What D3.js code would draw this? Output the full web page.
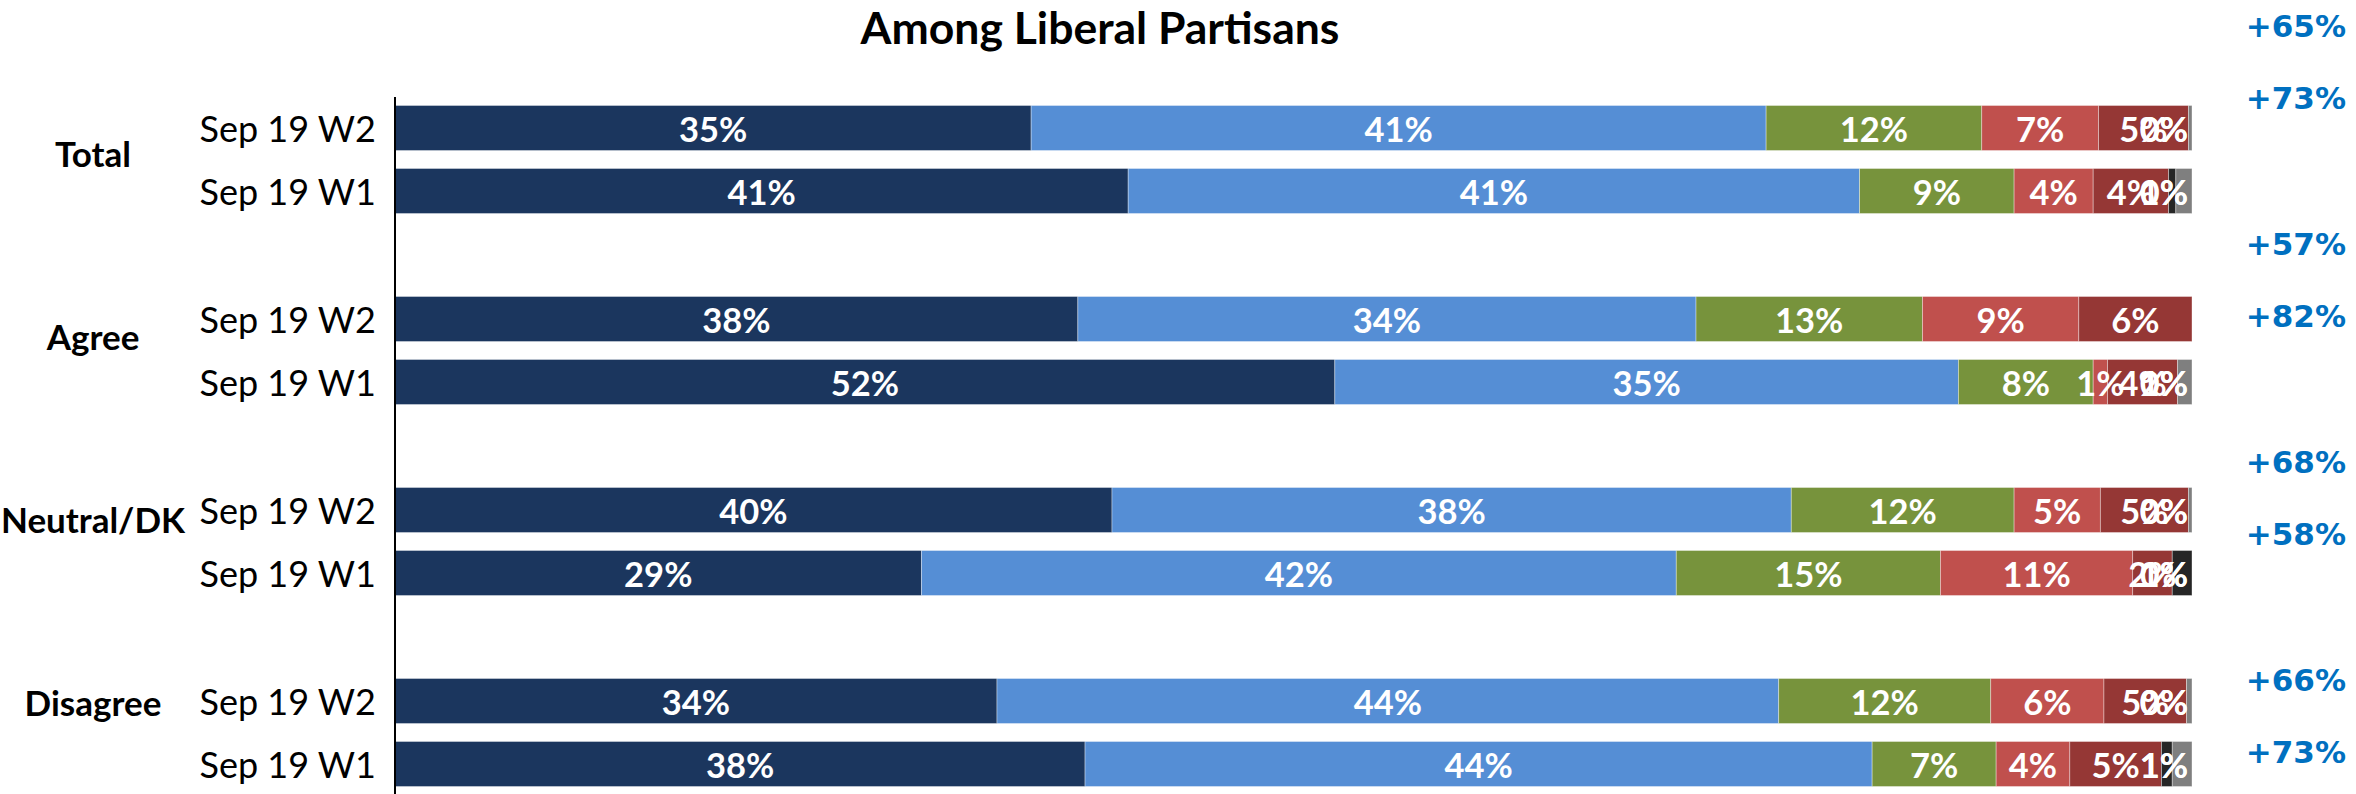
<!DOCTYPE html>
<html>
<head>
<meta charset="utf-8">
<script src="https://cdn.jsdelivr.net/npm/d3@7"></script>
<style>
  html, body { margin: 0; padding: 0; background: #fff; }
  svg { display: block; }
</style>
</head>
<body>
<svg id="chart" width="2356" height="794"></svg>
<script>
// ---- data ----
const groups = ["Total", "Agree", "Neutral/DK", "Disagree"];
const waves = ["Sep 19 W2", "Sep 19 W1"];
const categories = ["Strongly", "Somewhat", "Neither", "SomewhatNot", "StronglyNot", "DK", "Refused"];
const colors = ["#1B365E", "#558ED5", "#77933C", "#C0504D", "#953735", "#262626", "#7F7F7F"];
// values per row (group x wave), null = no segment/label
const totalW2 = [35.4, 40.9, 12.0, 6.5, 5.0, 0.0, 0.2];
const totalW1 = [40.8, 40.7, 8.6, 4.4, 4.2, 0.4, 0.9];
const agreeW2 = [38.0, 34.4, 12.6, 8.7, 6.3, null, null];
const agreeW1 = [52.3, 34.7, 7.5, 0.8, 3.9, 0.0, 0.8];
const neutralW2 = [39.9, 37.8, 12.4, 4.8, 4.9, 0.0, 0.2];
const neutralW1 = [29.3, 42.0, 14.7, 10.7, 2.2, 1.1, 0.0];
const disagreeW2 = [33.5, 43.5, 11.8, 6.3, 4.6, 0.0, 0.3];
const disagreeW1 = [38.4, 43.8, 6.9, 4.1, 5.1, 0.6, 1.1];
const netLabels = ["+65%", "+73%", "+57%", "+82%", "+68%", "+58%", "+66%", "+73%"];
const title = "Among Liberal Partisans";

const rows = [
  {g: "Total", w: "Sep 19 W2", v: totalW2},
  {g: "Total", w: "Sep 19 W1", v: totalW1},
  {g: "Agree", w: "Sep 19 W2", v: agreeW2},
  {g: "Agree", w: "Sep 19 W1", v: agreeW1},
  {g: "Neutral/DK", w: "Sep 19 W2", v: neutralW2},
  {g: "Neutral/DK", w: "Sep 19 W1", v: neutralW1},
  {g: "Disagree", w: "Sep 19 W2", v: disagreeW2},
  {g: "Disagree", w: "Sep 19 W1", v: disagreeW1}
];
rows.forEach((r, i) => r.net = netLabels[i]);

// ---- layout ----
const svg = d3.select("#chart");
const FONT = "Lato, 'Open Sans', sans-serif";

const x = d3.scaleLinear().domain([0, 100]).range([395, 2192]);
const yGroup = d3.scaleBand().domain(groups).range([105.5, 105.5 + 4 * 191]).paddingInner(0).paddingOuter(0);
const yWave = d3.scaleBand().domain(waves).range([0, 108]).paddingInner(18 / 63).paddingOuter(0);
const yLabelGroup = d3.scalePoint().domain(groups).range([153, 702]);
const rowCenter = r => yGroup(r.g) + yWave(r.w) + yWave.bandwidth() / 2;
const yNet = d3.scaleLinear().domain([128, 763]).range([26, 751]);

// title
svg.append("text")
  .attr("x", 1100).attr("y", 26)
  .attr("text-anchor", "middle").attr("dominant-baseline", "central")
  .style("font-family", FONT).style("font-weight", 700).style("font-size", "44.5px")
  .attr("fill", "#000")
  .text(title);

// bars
rows.forEach(r => {
  const g = svg.append("g");
  const yTop = yGroup(r.g) + yWave(r.w);
  const h = yWave.bandwidth();
  let cum = 0;
  const segs = [];
  r.v.forEach((val, k) => {
    if (val === null) return;
    segs.push({k, val, x0: cum, x1: cum + val});
    cum += val;
  });
  g.selectAll("rect").data(segs).join("rect")
    .attr("x", d => x(d.x0))
    .attr("y", yTop)
    .attr("width", d => Math.max(0, x(d.x1) - x(d.x0)))
    .attr("height", h)
    .attr("fill", d => colors[d.k])
    .attr("stroke", "rgba(255,255,255,0.45)")
    .attr("stroke-width", 0.8);
  const barEnd = x(cum);
  g.selectAll("text.val").data(segs).join("text")
    .attr("class", "val")
    .attr("y", yTop + h / 2)
    .attr("dominant-baseline", "central")
    .attr("text-anchor", "middle")
    .style("font-family", FONT).style("font-weight", 700).style("font-size", "34.5px")
    .attr("fill", "#fff")
    .text(d => Math.round(d.val) + "%")
    .each(function(d) {
      const w = this.getComputedTextLength();
      let cx = x((d.x0 + d.x1) / 2);
      if (cx + w / 2 > barEnd - 4) cx = barEnd - 4 - w / 2;
      d3.select(this).attr("x", cx);
    });
  // wave label
  svg.append("text")
    .attr("x", 376).attr("y", yTop + h / 2)
    .attr("text-anchor", "end").attr("dominant-baseline", "central")
    .style("font-family", FONT).style("font-size", "36px")
    .attr("fill", "#000")
    .text(r.w);
  // net label
  svg.append("text")
    .attr("x", 2346).attr("y", yNet(rowCenter(r)))
    .attr("text-anchor", "end").attr("dominant-baseline", "central")
    .style("font-family", "'DejaVu Sans', Verdana, sans-serif").style("font-weight", 700).style("font-size", "31px")
    .attr("fill", "#0070C0")
    .text(r.net);
});

// group labels
svg.selectAll("text.grp").data(groups).join("text")
  .attr("class", "grp")
  .attr("x", 93).attr("y", d => yLabelGroup(d))
  .attr("text-anchor", "middle").attr("dominant-baseline", "central")
  .style("font-family", FONT).style("font-weight", 700).style("font-size", "35px")
  .attr("fill", "#000")
  .text(d => d);

// axis line
svg.append("line")
  .attr("x1", x(0)).attr("x2", x(0))
  .attr("y1", 97).attr("y2", 794)
  .attr("stroke", "#000").attr("stroke-width", 2);
</script>
</body>
</html>
